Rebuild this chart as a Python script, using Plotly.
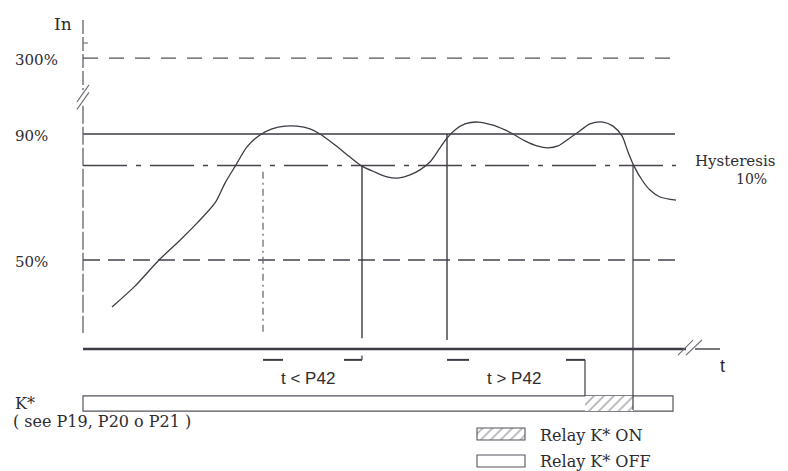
import plotly.graph_objects as go

# ---- current curve: time (ms-like units) vs current in % of In ----
curve_t = [29, 52, 76, 97, 114, 132, 142, 153, 164, 177, 189, 202, 214, 227, 237,
           252, 267, 279, 292, 305, 315, 327, 337, 347, 357, 364, 372, 382, 395,
           409, 422, 430, 442, 454, 465, 475, 484, 494, 507, 520, 530, 539, 545,
           551, 559, 567, 577, 593]
curve_in = [35.1, 41.7, 50.0, 56.3, 61.7, 68.1, 74.4, 80.2, 85.9, 89.7, 91.6, 92.5,
            92.5, 91.6, 90.0, 86.5, 82.7, 79.8, 77.9, 76.3, 76.0, 77.0, 78.6, 81.1,
            85.6, 88.7, 91.3, 93.2, 93.8, 92.9, 91.3, 90.0, 87.8, 86.2, 85.6, 86.2,
            88.1, 90.3, 93.2, 93.8, 92.5, 89.4, 84.3, 79.8, 75.4, 72.2, 70.0, 69.0]

# ---- thresholds (% of In) ----
PICKUP = 90
HYSTERESIS = 10
RELEASE = PICKUP - HYSTERESIS
LEVEL_50 = 50
LEVEL_300_POS = 114.1          # drawn above the axis break
level_ticks = [LEVEL_300_POS, PICKUP, LEVEL_50]
level_labels = ["300%", "90%", "50%"]

# ---- event times ----
T_START = 0
T_UP1 = 180        # first crossing of 90 %
T_DOWN1 = 279      # drop below hysteresis before P42 elapsed
T_UP2 = 364        # second crossing of 90 %
T_RELAY_ON = 502   # P42 elapsed -> relay K* energised
T_DOWN2 = 550      # drop below hysteresis -> relay K* released
T_AXIS_BREAK = [603, 612]
T_AXIS_END = 637

# ---- vertical layout levels (same units as the current axis) ----
TIME_AXIS_Y = 21.75
Y_AXIS_TOP = 126.2
Y_AXIS_BOTTOM = 26.8
MARK_Y = 18.3
LABEL_Y = 12.5
RELAY_Y, RELAY_H = 4.45, 4.8
RELAY_END = 590

INK = "#3f3a45"
GREY = "#6f6b74"
TXT = "#2e2b31"
SERIF = "DejaVu Serif"
SANS = "Liberation Sans"

fig = go.Figure()


def seg(xs, ys, color=INK, width=1.3, dash="solid"):
    fig.add_trace(go.Scatter(x=xs, y=ys, mode="lines", hoverinfo="skip",
                             showlegend=False,
                             line=dict(color=color, width=width, dash=dash)))


# vertical current axis with break and small tick
seg([0, 0], [Y_AXIS_TOP, 104], GREY, 1.4, "14px,3px")
seg([0, 0], [99, Y_AXIS_BOTTOM], GREY, 1.4, "18px,3px")
seg([-6, 6], [100.2, 105.6], GREY, 1.1)
seg([-6, 6], [97.8, 103.2], GREY, 1.1)
seg([0, 5], [118.9, 118.9], GREY, 1.1)

# horizontal threshold lines
seg([0, 597], [LEVEL_300_POS] * 2, "#55505a", 1.3, "15px,11px")
seg([0, 592], [PICKUP] * 2, GREY, 2.0)
seg([0, 593], [RELEASE] * 2, "#47424c", 1.5, "44px,9px,5px,9px")
seg([0, 593], [LEVEL_50] * 2, "#47424c", 1.5, "17px,8px")

# current curve
fig.add_trace(go.Scatter(x=curve_t, y=curve_in, mode="lines", hoverinfo="skip",
                         showlegend=False,
                         line=dict(color=INK, width=1.3, shape="spline",
                                   smoothing=0.8)))

# event verticals
seg([T_UP1, T_UP1], [RELEASE - 2, Y_AXIS_BOTTOM], GREY, 1.3, "7px,4px,2px,4px")
seg([T_DOWN1, T_DOWN1], [RELEASE, 25.2], INK, 1.4)
seg([T_UP2, T_UP2], [PICKUP, 24.6], INK, 1.4)
seg([T_DOWN2, T_DOWN2], [RELEASE, RELAY_Y - RELAY_H / 2 + 0.3], INK, 1.2)

# time axis with break
seg([T_START, T_AXIS_BREAK[0]], [TIME_AXIS_Y] * 2, INK, 2.4)
seg([T_AXIS_BREAK[1], T_AXIS_END], [TIME_AXIS_Y] * 2, INK, 1.4)
seg([595, 610], [19.8, 24.6], GREY, 1.1)
seg([603, 619], [19.8, 24.6], GREY, 1.1)

# P42 delay markers
seg([T_UP1, T_UP1 + 20], [MARK_Y] * 2, INK, 2.0)
seg([T_DOWN1 - 18, T_DOWN1], [MARK_Y] * 2, INK, 2.0)
seg([T_DOWN1, T_DOWN1], [MARK_Y, MARK_Y + 1.4], INK, 1.2)
seg([T_UP2, T_UP2 + 22], [MARK_Y] * 2, INK, 2.0)
seg([T_RELAY_ON - 19, T_RELAY_ON], [MARK_Y] * 2, INK, 2.0)
seg([T_RELAY_ON, T_RELAY_ON], [MARK_Y, RELAY_Y + RELAY_H / 2], INK, 1.2)

# relay K* state bar
fig.add_trace(go.Bar(orientation="h", y=[RELAY_Y], x=[RELAY_END - T_START],
                     base=[T_START], width=[RELAY_H], hoverinfo="skip",
                     showlegend=False,
                     marker=dict(color="white", line=dict(color="#58535d", width=1.2))))
fig.add_trace(go.Bar(orientation="h", y=[RELAY_Y], x=[T_DOWN2 - T_RELAY_ON],
                     base=[T_RELAY_ON], width=[RELAY_H], hoverinfo="skip",
                     showlegend=False,
                     marker=dict(color="white", line=dict(color="#58535d", width=0),
                                 pattern=dict(shape="/", fgcolor="#6a666e",
                                              bgcolor="white", size=7,
                                              solidity=0.25))))

# key boxes
KEY_T0, KEY_T1 = 394, 442
key_rows = [-5.25, -13.8]
fig.add_trace(go.Bar(orientation="h", y=[key_rows[0]], x=[KEY_T1 - KEY_T0],
                     base=[KEY_T0], width=[3.8], hoverinfo="skip", showlegend=False,
                     marker=dict(color="white", line=dict(color="#58535d", width=1.1),
                                 pattern=dict(shape="/", fgcolor="#6a666e",
                                              bgcolor="white", size=7,
                                              solidity=0.25))))
fig.add_trace(go.Bar(orientation="h", y=[key_rows[1]], x=[KEY_T1 - KEY_T0],
                     base=[KEY_T0], width=[3.8], hoverinfo="skip", showlegend=False,
                     marker=dict(color="white", line=dict(color="#58535d", width=1.1))))


def label(x, y, text, size=15, family=SERIF, xanchor="left"):
    fig.add_annotation(x=x, y=y, text=text, showarrow=False, xanchor=xanchor,
                       yanchor="middle", font=dict(family=family, size=size, color=TXT))


label(-20, 125.0, "In", 17, xanchor="center")
for yv, txt in zip(level_ticks, level_labels):
    label(-70, yv - 0.5, txt, 15)
label(610, 81.3, "Hysteresis", 15)
label(651, 75.8, "10%", 14)
label(639, 16.2, "t", 18, SANS, "center")
label(225, LABEL_Y, "t < P42", 17, SANS, "center")
label(431, LABEL_Y, "t > P42", 17, SANS, "center")
label(-70, 4.6, "K*", 16)
label(-72, -1.4, "( see P19, P20 o P21 )", 16)
label(455, -5.6, "Relay K* ON", 16)
label(455, -14.0, "Relay K* OFF", 16)

fig.update_layout(
    width=788, height=471,
    margin=dict(l=0, r=0, t=0, b=0),
    paper_bgcolor="white", plot_bgcolor="white",
    barmode="overlay",
    xaxis=dict(range=[-83, 705], visible=False, fixedrange=True),
    yaxis=dict(range=[-16.98, 132.54], visible=False, fixedrange=True),
)

fig.write_html("out.html")
